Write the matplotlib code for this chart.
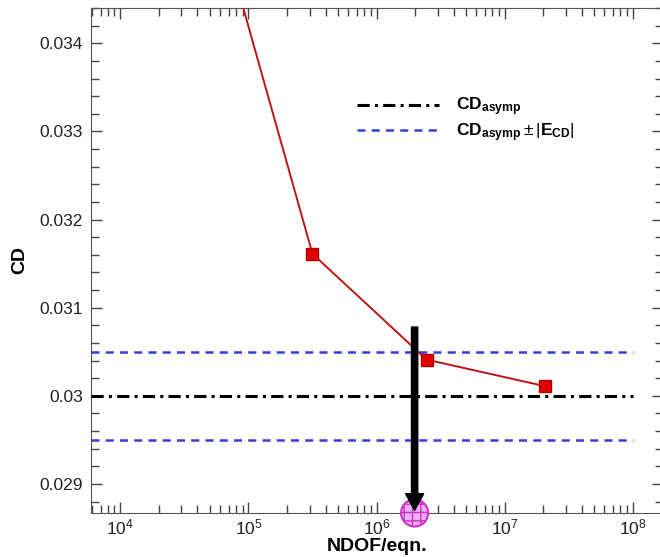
import matplotlib
matplotlib.use('Agg')
import matplotlib.pyplot as plt
import numpy as np

plt.rcParams['font.family'] = ['Liberation Sans', 'DejaVu Sans']
plt.rcParams['mathtext.fontset'] = 'custom'
plt.rcParams['mathtext.rm'] = 'Liberation Sans'
plt.rcParams['mathtext.bf'] = 'Liberation Sans:bold'
plt.rcParams['mathtext.it'] = 'Liberation Sans:italic'

# grid refinement data
ndof = [3.9e4, 3.16e5, 2.46e6, 2.05e7]
cd = [0.0363, 0.03161, 0.03041, 0.03011]

cd_asymp = 0.0300
e_cd = 0.0005
ndof_req = 1.98e6   # where the curve enters the error band

x_min, x_max = 5.9e3, 1.72e8
y_min, y_max = 0.02867, 0.03429

black_dd = (0, (4, 1.7, 1, 1.7))
blue_dash = (0, (3.2, 2.5))

fig = plt.figure(figsize=(6.6, 5.57), dpi=100)
ax = fig.add_axes([91/660, 1 - 513/557, 572/660, 505/557])

ax.plot(ndof, cd, color='#c01414', lw=1.4, marker='s', ms=9,
        mfc='#e00000', mec='#b00000', zorder=4)

ax.hlines(cd_asymp, x_min, 1e8, colors='black', lw=2.2,
          linestyles=black_dd, zorder=3)
ax.hlines([cd_asymp + e_cd, cd_asymp - e_cd], x_min, 1e8, colors='#3a3ad6',
          lw=1.8, linestyles=blue_dash, zorder=3)

# legend proxies
l1, = ax.plot([], [], color='black', lw=2.2, ls=black_dd)
l2, = ax.plot([], [], color='#3a3ad6', lw=1.8, ls=blue_dash)
ax.legend([l1, l2], [r'$\mathbf{CD}_{\mathbf{asymp}}$',
                     r'$\mathbf{CD}_{\mathbf{asymp}}\pm|\mathbf{E}_{\mathbf{CD}}|$'],
          loc='upper left', bbox_to_anchor=(0.465, 0.826), frameon=False,
          fontsize=12.5, handlelength=4.7, handletextpad=1.0, borderpad=0,
          borderaxespad=0, labelspacing=0.15)

# required NDOF marker on the axis
ax.scatter([ndof_req], [y_min], s=380, facecolor='#eab0f2', edgecolor='#cc33cc',
           lw=1.5, hatch='++', clip_on=False, zorder=6)
# arrow down to it, drawn on top
ax.annotate('', xy=(ndof_req, y_min + 0.00003), xytext=(ndof_req, 0.03078),
            arrowprops=dict(width=4.5, headwidth=13, headlength=12,
                            facecolor='black', edgecolor='black', shrink=0),
            zorder=8)

ax.set_xscale('log')
ax.set_xlim(x_min, x_max)
ax.set_ylim(y_min, y_max)
ax.set_yticks([0.029, 0.030, 0.031, 0.032, 0.033, 0.034])
ax.set_yticklabels(['0.029', '0.03', '0.031', '0.032', '0.033', '0.034'])
ax.set_yticks(np.arange(0.0288, 0.0344, 0.0002), minor=True)
ax.xaxis.set_minor_locator(matplotlib.ticker.LogLocator(base=10, subs=np.arange(2, 10)))
ax.xaxis.set_minor_formatter(matplotlib.ticker.NullFormatter())

ax.tick_params(which='both', direction='in', top=True, right=True,
               labelsize=12.5, color='#444444', labelcolor='#222222')
ax.tick_params(which='major', length=8, width=1)
ax.tick_params(which='minor', length=5.5, width=1)
ax.tick_params(axis='y', which='major', pad=6)
ax.tick_params(axis='x', which='major', pad=3)
for s in ax.spines.values():
    s.set_color('#555555')

ax.set_xlabel('NDOF/eqn.', fontsize=14, fontweight='bold', labelpad=1)
ax.set_ylabel('CD', fontsize=14, fontweight='bold', labelpad=8)

fig.savefig('out.png', dpi=100)
